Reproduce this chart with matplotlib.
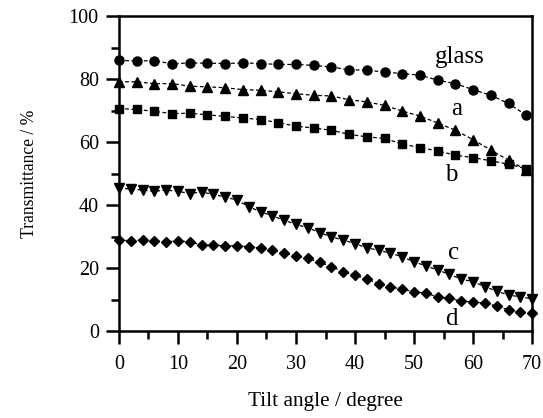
import numpy as np
import matplotlib
matplotlib.use("Agg")
import matplotlib.pyplot as plt
from matplotlib.ticker import MultipleLocator

plt.rcParams['font.family'] = ['Liberation Serif', 'DejaVu Serif']

# tilt angles (degree)
x3 = np.arange(0, 70, 3)      # glass, a, b
x2 = np.arange(0, 71, 2)      # c, d

glass = [86.0, 85.8, 85.9, 84.9, 85.2, 85.1, 85.0, 85.2, 85.0, 84.7, 84.7, 84.4,
         83.9, 83.0, 82.9, 82.3, 81.8, 81.3, 79.7, 78.6, 76.7, 74.9, 72.3, 68.6]
a = [79.2, 79.2, 78.6, 78.6, 77.8, 77.6, 77.3, 76.7, 76.5, 76.0, 75.4, 74.9,
     74.7, 73.5, 72.8, 71.7, 69.9, 68.3, 66.1, 63.8, 60.8, 57.5, 54.3, 51.2]
b = [70.7, 70.4, 69.8, 69.1, 69.2, 68.7, 68.2, 67.7, 67.2, 66.2, 65.1, 64.5,
     63.8, 62.5, 61.7, 61.2, 59.4, 58.3, 57.2, 55.9, 55.1, 54.1, 53.0, 51.6]
c = [45.5, 45.1, 44.8, 44.4, 44.8, 44.4, 43.7, 44.2, 43.4, 42.6, 41.6, 39.5,
     37.9, 36.6, 35.2, 33.9, 32.8, 31.3, 29.9, 28.9, 27.8, 26.4, 25.7, 24.7,
     23.6, 22.0, 20.7, 19.4, 18.0, 16.5, 15.7, 14.1, 12.7, 11.4, 10.9, 10.2]
d = [28.9, 28.7, 28.9, 28.6, 28.4, 28.6, 28.4, 27.3, 27.3, 27.1, 27.1, 26.8,
     26.4, 25.7, 24.7, 23.9, 23.1, 21.8, 20.5, 18.8, 17.8, 16.5, 15.1, 14.1,
     13.3, 12.5, 12.0, 10.9, 10.4, 9.5, 9.3, 8.8, 8.0, 6.7, 5.9, 5.6]

fig = plt.figure(figsize=(5.43, 4.18), dpi=100)
ax = fig.add_axes([0.219, 0.208, 0.761, 0.753])

ls = (0, (3, 2))
ax.plot(x3, glass, color='black', ls=ls, lw=0.9, marker='o', ms=6.5, clip_on=False, zorder=3)
ax.plot(x3, a, color='black', ls=ls, lw=0.9, marker='^', ms=7.3, clip_on=False, zorder=3)
ax.plot(x3, b, color='black', ls=ls, lw=0.9, marker='s', ms=5.8, clip_on=False, zorder=3)
ax.plot(x2, c, color='black', ls=ls, lw=0.9, marker='v', ms=7.3, clip_on=False, zorder=3)
ax.plot(x2, d, color='black', ls=ls, lw=0.9, marker='D', ms=5.6, clip_on=False, zorder=3)

lfs = 18
ax.text(57.8, 87.0, 'glass', ha='center', va='center', fontsize=lfs)
ax.text(57.2, 70.7, 'a', ha='center', va='center', fontsize=lfs)
ax.text(56.3, 49.5, 'b', ha='center', va='center', fontsize=lfs)
ax.text(56.7, 24.7, 'c', ha='center', va='center', fontsize=lfs)
ax.text(56.4, 3.8, 'd', ha='center', va='center', fontsize=lfs)

ax.set_xlim(0, 70)
ax.set_ylim(0, 100)
ax.xaxis.set_major_locator(MultipleLocator(10))
ax.xaxis.set_minor_locator(MultipleLocator(5))
ax.yaxis.set_major_locator(MultipleLocator(20))
ax.yaxis.set_minor_locator(MultipleLocator(10))
ax.tick_params(which='both', direction='out', width=1.8, labelsize=14.5)
ax.tick_params(which='major', length=9.5)
ax.tick_params(which='minor', length=5.5)
ax.tick_params(axis='x', pad=8)
ax.tick_params(axis='y', pad=5)
for s in ax.spines.values():
    s.set_linewidth(1.8)

ax.set_xlabel('Tilt angle / degree', fontsize=15.3, labelpad=13)
ax.set_ylabel('Transmittance / %', fontsize=12.7, labelpad=22)

fig.savefig('out.png', dpi=100)
